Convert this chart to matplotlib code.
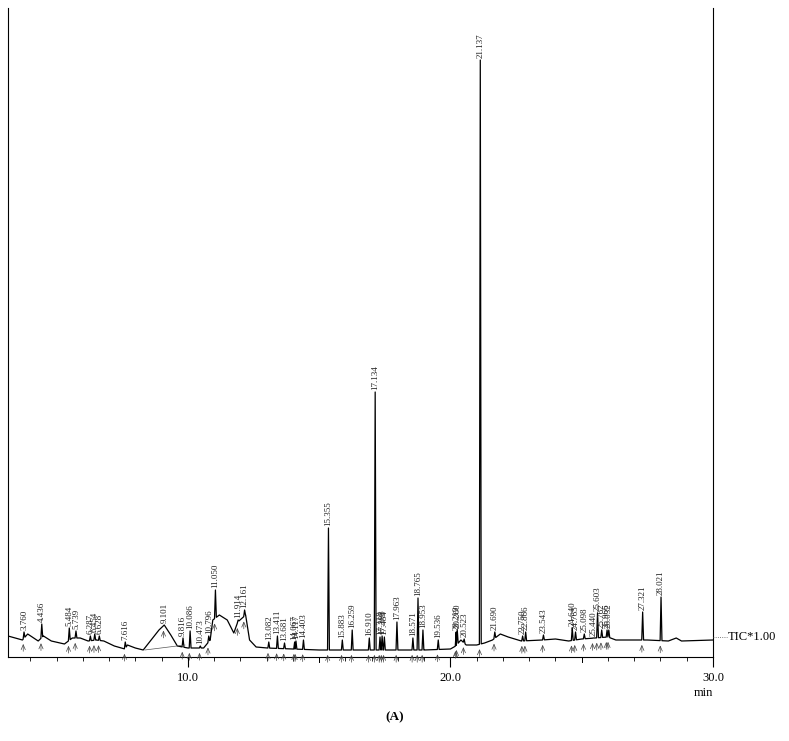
import numpy as np
import matplotlib.pyplot as plt
from matplotlib.lines import Line2D

# ==============================
# data (signal in pixel units above the axis)
# ==============================
# baseline / slow hump points: retention time (min), signal
base_t = [3.15, 3.70, 3.90, 4.30, 4.50, 4.80, 5.30, 5.60, 5.90, 6.20, 6.50,
          6.80, 7.20, 7.60, 7.70, 8.00, 8.30, 8.60, 8.90, 9.10, 9.35, 9.60,
          10.00, 10.60, 10.85, 10.95, 11.20, 11.50, 11.75, 11.90, 12.20,
          12.35, 12.60, 13.00, 14.00, 15.00, 17.00, 18.00, 19.00, 20.00,
          20.20, 20.40, 20.60, 21.00, 21.30, 21.60, 21.90, 22.20, 22.70,
          23.50, 24.00, 24.50, 25.00, 25.50, 26.00, 26.30, 26.80, 27.50,
          28.30, 28.60, 28.80, 30.00]
base_y = [21, 17, 23, 16, 21, 16, 13, 19, 19, 16, 17,
          16, 11, 8, 12, 9, 7, 17, 27, 32, 22, 11,
          9, 9, 17, 37, 42, 37, 24, 35, 42,
          17, 10, 9, 8, 7, 7, 7, 7, 8,
          11, 17, 12, 12, 14, 17, 23, 20, 16,
          17, 18, 16, 18, 19, 20, 17, 17, 17,
          16, 19, 16, 17]

# labelled peaks: retention time and apex signal
peak_t = [3.760, 4.436, 5.484, 5.739, 6.287, 6.454, 6.628, 7.616, 9.101,
          9.816, 10.086, 10.473, 10.796, 11.050, 11.914, 12.161, 13.082,
          13.411, 13.681, 14.067, 14.117, 14.403, 15.355, 15.883, 16.259,
          16.910, 17.134, 17.318, 17.398, 17.484, 17.963, 18.571, 18.765,
          18.953, 19.536, 20.219, 20.260, 20.523, 21.137, 21.690, 22.750,
          22.866, 23.543, 24.640, 24.765, 25.098, 25.440, 25.603, 25.762,
          25.966, 26.032, 27.321, 28.021]
peak_y = [25, 33, 29, 26, 21, 23, 21, 15, 32,
          19, 26, 11, 21, 67, 37, 47, 15,
          21, 14, 15, 16, 17, 129, 17, 27,
          19, 265, 20, 21, 20, 35, 19, 59,
          27, 17, 25, 27, 18, 597, 25, 21,
          25, 22, 29, 25, 23, 19, 44, 27,
          27, 27, 45, 60]

# integration baseline drawn under the 9.1 min hump
integ_t = [8.36, 9.89]
integ_y = [7, 12]

# ==============================
# build the trace
# ==============================
w = 0.035
pts = list(zip(base_t, base_y))
for t, y in zip(peak_t, peak_y):
    pts = [p for p in pts if not (t - w < p[0] < t + w)]
    pts.append((t - w, np.interp(t - w, base_t, base_y)))
    pts.append((t, y))
    pts.append((t + w, np.interp(t + w, base_t, base_y)))
pts.sort()
trace_t = [p[0] for p in pts]
trace_y = [p[1] for p in pts]

# ==============================
# plot
# ==============================
SERIF = ["Liberation Serif", "DejaVu Serif"]
W, H = 789, 741
fig = plt.figure(figsize=(W / 100, H / 100), dpi=100)
ax = fig.add_axes([8 / W, 84 / H, 705 / W, 649 / H])

ax.plot(trace_t, trace_y, color="black", lw=0.9)
ax.plot(integ_t, integ_y, color="#555555", lw=0.5)

for t, y in zip(peak_t, peak_y):
    ax.text(t, y + 2, f"{t:.3f}", rotation=90, ha="center", va="bottom",
            fontsize=6.5, family=SERIF, color="#222222")
    b = np.interp(t - 0.03, base_t, base_y)
    ax.annotate("", xy=(t - 0.03, b - 2), xytext=(t - 0.03, b - 15),
                arrowprops=dict(arrowstyle="->,head_length=0.35,head_width=0.15",
                                lw=0.5, color="#444444"))

ax.set_xlim(3.15, 30.0)
ax.set_ylim(0, 649)

for s in ["left", "right", "bottom"]:
    ax.spines[s].set_linewidth(0.8)
ax.spines["top"].set_visible(False)

ax.set_yticks([])
ax.set_xticks([10, 20, 30])
ax.set_xticklabels(["10.0", "20.0", "30.0"], fontsize=9, family=SERIF)
ax.set_xticks(np.arange(4, 30, 1), minor=True)
ax.tick_params(axis="x", which="major", direction="out", length=7, width=0.8, pad=4)
ax.tick_params(axis="x", which="minor", direction="out", length=3, width=0.6)
# medium ticks at 15 and 25
for t in [15, 25]:
    ax.plot([t, t], [0, -5], color="black", lw=0.7, clip_on=False)

ax.text(30.0, -36, "min", ha="right", va="center", fontsize=9, family=SERIF)

# TIC tag with dotted leader
fig.add_artist(Line2D([713 / W, 727 / W], [(H - 637) / H, (H - 637) / H],
                      color="#555555", lw=0.6, ls=":"))
fig.text(728 / W, (H - 637) / H, "TIC*1.00", ha="left", va="center",
         fontsize=9, family=SERIF)

fig.text(395 / W, (H - 717) / H, "(A)", ha="center", va="center",
         fontsize=9.5, family=SERIF, fontweight="bold")

fig.savefig("out.png", dpi=100)
